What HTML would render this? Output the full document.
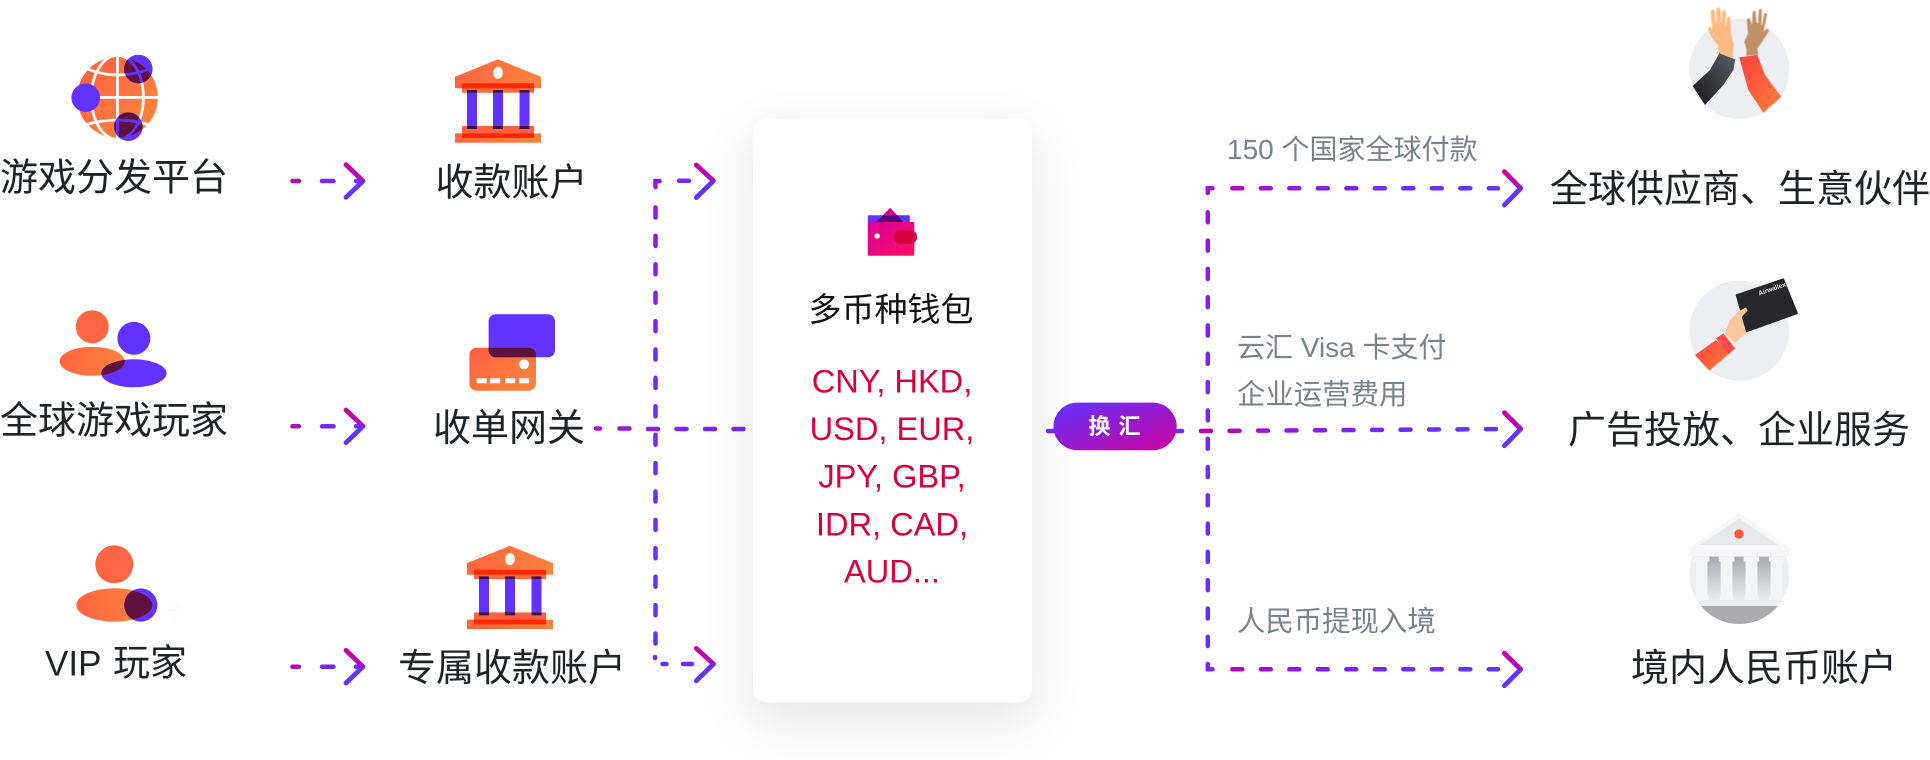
<!DOCTYPE html>
<html>
<head>
<meta charset="utf-8">
<style>
html,body{margin:0;padding:0;background:#fff;width:1930px;height:760px;overflow:hidden}
svg{display:block;position:absolute;left:0;top:0}
.t{font-family:"Liberation Sans","Noto Sans CJK SC",sans-serif;font-size:38px;fill:#1f2328}
.g{font-family:"Liberation Sans","Noto Sans CJK SC",sans-serif;font-size:28.4px;fill:#7a8290}
.c{font-family:"Liberation Sans",sans-serif;font-size:32.6px;fill:#d9003c;text-anchor:middle}
.d{fill:none;stroke-width:4.5;stroke-linecap:round;stroke-dasharray:10 18.5}
.s{fill:none;stroke-width:4.5;stroke-linecap:round}
.ch{fill:none;stroke:url(#chev);stroke-width:4.8;stroke-linecap:round;stroke-linejoin:round}
</style>
</head>
<body>
<svg width="1930" height="760" viewBox="0 0 1930 760" xmlns="http://www.w3.org/2000/svg">
<defs>
<linearGradient id="o" x1="0" y1="0" x2="1" y2="1"><stop offset="0" stop-color="#ff5c42"/><stop offset="1" stop-color="#ff8a3c"/></linearGradient>
<linearGradient id="o2" x1="0" y1="0" x2="1" y2="0"><stop offset="0" stop-color="#ff6440"/><stop offset="1" stop-color="#ff843c"/></linearGradient>
<linearGradient id="chev" x1="0" y1="0" x2="0" y2="1"><stop offset="0" stop-color="#cc00a0"/><stop offset=".42" stop-color="#b008c0"/><stop offset=".55" stop-color="#6232ff"/><stop offset="1" stop-color="#6232ff"/></linearGradient>
<linearGradient id="hl" gradientUnits="userSpaceOnUse" x1="1205" y1="0" x2="1510" y2="0"><stop offset="0" stop-color="#c400a8"/><stop offset=".3" stop-color="#8c1ce6"/><stop offset=".65" stop-color="#6e2cfa"/><stop offset="1" stop-color="#6232ff"/></linearGradient>
<linearGradient id="hs" gradientUnits="userSpaceOnUse" x1="285" y1="0" x2="360" y2="0"><stop offset="0" stop-color="#c400a8"/><stop offset=".55" stop-color="#7a28f0"/><stop offset="1" stop-color="#6232ff"/></linearGradient>
<linearGradient id="hm" gradientUnits="userSpaceOnUse" x1="590" y1="0" x2="750" y2="0"><stop offset="0" stop-color="#b010c8"/><stop offset=".5" stop-color="#7a26f2"/><stop offset="1" stop-color="#6a2cff"/></linearGradient>
<linearGradient id="vl" gradientUnits="userSpaceOnUse" x1="0" y1="180" x2="0" y2="665"><stop offset="0" stop-color="#9a14dc"/><stop offset=".45" stop-color="#7628f6"/><stop offset="1" stop-color="#6232ff"/></linearGradient>
<linearGradient id="pill" x1="0" y1="0" x2="1" y2="1"><stop offset="0" stop-color="#5f34ff"/><stop offset="1" stop-color="#cc009c"/></linearGradient>
<linearGradient id="wal" x1="0" y1="0" x2="1" y2="1"><stop offset="0" stop-color="#d4009c"/><stop offset="1" stop-color="#ff1060"/></linearGradient>
<linearGradient id="slv" x1="1" y1="0" x2="0" y2="1"><stop offset="0" stop-color="#5c5d66"/><stop offset="1" stop-color="#16161a"/></linearGradient>
<linearGradient id="red" x1="0" y1="0" x2="1" y2="1"><stop offset="0" stop-color="#ff3e40"/><stop offset="1" stop-color="#ff8038"/></linearGradient>
<linearGradient id="col" x1="0" y1="0" x2="0" y2="1"><stop offset="0" stop-color="#a9aaaf"/><stop offset="1" stop-color="#ebecef"/></linearGradient>
<filter id="sh" x="-30%" y="-20%" width="160%" height="140%"><feDropShadow dx="0" dy="18" stdDeviation="24" flood-color="#000" flood-opacity=".10"/></filter>
<filter id="bl" x="-5%" y="-5%" width="110%" height="110%"><feGaussianBlur stdDeviation="1.2"/></filter>
<mask id="gm" maskUnits="userSpaceOnUse" x="60" y="40" width="120" height="120">
  <circle cx="117.5" cy="97.4" r="40.5" fill="#fff"/>
  <g fill="none" stroke="#000" stroke-width="2.8">
    <line x1="117.4" y1="50" x2="117.4" y2="145"/>
    <line x1="70" y1="97.4" x2="165" y2="97.4"/>
    <ellipse cx="117.4" cy="97.4" rx="26" ry="42"/>
    <path d="M85 68 Q117 82 152 68"/>
    <path d="M85 125 Q117 115 150 125"/>
  </g>
</mask>
<clipPath id="gc"><circle cx="138.3" cy="69" r="14.3"/><circle cx="128.3" cy="126.7" r="14.3"/></clipPath>
<clipPath id="p1"><ellipse cx="92.2" cy="361.3" rx="32.6" ry="14.5"/></clipPath>
<clipPath id="v1"><ellipse cx="114.3" cy="605" rx="38" ry="16.7"/></clipPath>
<clipPath id="c1"><rect x="469.4" y="347.7" width="66.6" height="43" rx="7"/></clipPath>
<clipPath id="bk"><circle cx="178" cy="192" r="150"/></clipPath>
<g id="bank">
  <polygon points="498,59.3 541,76.7 541,88.3 455,88.3 455,76.7" fill="url(#o2)"/>
  <ellipse cx="498" cy="72.7" rx="4.8" ry="6" fill="#fff"/>
  <rect x="462" y="83.3" width="72" height="9.4" fill="#ff6a42"/>
  <rect x="462" y="83.3" width="72" height="5" fill="#ff2800"/>
  <rect x="467" y="90" width="10" height="39" fill="#6232ff"/>
  <rect x="493" y="90" width="10" height="39" fill="#6232ff"/>
  <rect x="519.5" y="90" width="10" height="39" fill="#6232ff"/>
  <rect x="462" y="126" width="72" height="12" fill="#ff6042"/>
  <rect x="467" y="90" width="10" height="2.7" fill="#3a1540"/><rect x="493" y="90" width="10" height="2.7" fill="#3a1540"/><rect x="519.5" y="90" width="10" height="2.7" fill="#3a1540"/>
  <rect x="467" y="126" width="10" height="3" fill="#3a1540"/><rect x="493" y="126" width="10" height="3" fill="#3a1540"/><rect x="519.5" y="126" width="10" height="3" fill="#3a1540"/>
  <rect x="455" y="133.3" width="86" height="9.4" fill="url(#o2)"/>
  <rect x="462" y="133.3" width="72" height="4.7" fill="#ff2800"/>
</g>
</defs>

<!-- globe -->
<circle cx="117.5" cy="97.4" r="40.5" fill="url(#o)" mask="url(#gm)"/>
<circle cx="138.3" cy="69" r="14.3" fill="#6232ff"/>
<circle cx="85.7" cy="97.7" r="14.3" fill="#6232ff"/>
<circle cx="128.3" cy="126.7" r="14.3" fill="#6232ff"/>
<g clip-path="url(#gc)"><circle cx="117.5" cy="97.4" r="40.5" fill="#5f1240" mask="url(#gm)"/></g>

<!-- bank 1 -->
<use href="#bank"/>

<!-- people -->
<circle cx="92.2" cy="326.7" r="16.5" fill="#ff6644"/>
<ellipse cx="92.2" cy="361.3" rx="32.6" ry="14.5" fill="url(#o2)"/>
<circle cx="133.9" cy="338.3" r="16.5" fill="#6232ff"/>
<ellipse cx="133.9" cy="373.3" rx="32.7" ry="14" fill="#6232ff"/>
<g clip-path="url(#p1)"><ellipse cx="133.9" cy="373.3" rx="32.7" ry="14" fill="#5f1240"/></g>

<!-- card icon -->
<rect x="469.4" y="347.7" width="66.6" height="43" rx="7" fill="url(#o)"/>
<rect x="488.6" y="314.3" width="66.4" height="43" rx="7" fill="#6232ff"/>
<g clip-path="url(#c1)"><rect x="488.6" y="314.3" width="66.4" height="43" rx="7" fill="#5f1240"/></g>
<circle cx="524" cy="364.3" r="5" fill="#fff"/>
<g fill="#fff"><rect x="476.7" y="378.3" width="10" height="5"/><rect x="490" y="378.3" width="10" height="5"/><rect x="505" y="378.3" width="10" height="5"/><rect x="519" y="378.3" width="10" height="5"/></g>

<!-- VIP -->
<circle cx="114.3" cy="564.3" r="19" fill="#ff6644"/>
<ellipse cx="114.3" cy="605" rx="38" ry="16.7" fill="url(#o2)"/>
<circle cx="140.8" cy="605" r="16.6" fill="#6232ff"/>
<g clip-path="url(#v1)"><circle cx="140.8" cy="605" r="16.6" fill="#5f1240"/></g>
<path d="M163 610H183M174 601L183 610L174 619" fill="none" stroke="#fcfcfc" stroke-width="2"/>

<!-- bank 2 -->
<use href="#bank" transform="translate(12,486.4)"/>

<!-- left labels -->
<text class="t" x="0" y="190.5">游戏分发平台</text>
<text class="t" x="0" y="433.5">全球游戏玩家</text>
<text class="t" x="45" y="675.5"><tspan font-size="35">VIP</tspan><tspan x="113" font-size="37">玩家</tspan></text>
<text class="t" x="435.5" y="195.5">收款账户</text>
<text class="t" x="433" y="441">收单网关</text>
<text class="t" x="398" y="681">专属收款账户</text>

<!-- short arrows -->
<g id="sa">
<path class="s" stroke="url(#hs)" d="M292.5 181H299M322 181H333.5M356 181H362"/>
<polyline class="ch" points="346,164.7 363,181 346,197.3"/>
</g>
<use href="#sa" transform="translate(0,245.3)"/>
<use href="#sa" transform="translate(0,485.7)"/>

<!-- left connector network -->
<path class="s" stroke="url(#hm)" d="M596 428.5H600M619.5 428.5H629.5"/>
<path class="d" stroke="url(#hm)" d="M648 429H745"/>
<path class="d" stroke="url(#vl)" style="stroke-dasharray:10 18.4" d="M655.5 207.5V644"/>
<path class="s" stroke="#9a14dc" d="M655.5 187V181H659.5"/>
<path class="s" stroke="#7a28f4" d="M679 180.8H689"/>
<polyline class="ch" points="696.3,165 713.5,180.8 696.3,197.6"/>
<path class="s" stroke="#6a2cff" d="M655 657V658M662.5 664H666.5M683 664H692"/>
<polyline class="ch" points="696.3,648.4 713.5,664 696.3,680.8"/>

<!-- card -->
<rect x="753" y="118.5" width="279" height="584" rx="14" fill="#fff" filter="url(#sh)"/>
<!-- wallet -->
<rect x="867.8" y="215.3" width="42" height="8" rx="1" fill="#6232ff"/>
<polygon points="890.2,207.7 903.3,222 876.7,222" fill="#cc0094"/>
<polygon points="883.3,215.3 897.1,215.3 903.3,222 876.7,222" fill="#52007a"/>
<rect x="867.8" y="222" width="46.5" height="33.7" rx="1.5" fill="url(#wal)"/>
<rect x="894.3" y="230.5" width="22.7" height="13" rx="6" fill="#d4003e"/>
<circle cx="877.1" cy="236" r="2.7" fill="#fff"/>
<text x="891" y="321" text-anchor="middle" style="font-family:'Liberation Sans','Noto Sans CJK SC',sans-serif;font-size:33px;fill:#111">多币种钱包</text>
<text class="c" x="892" y="392.5">CNY, HKD,</text>
<text class="c" x="892" y="440">USD, EUR,</text>
<text class="c" x="892" y="487.5">JPY, GBP,</text>
<text class="c" x="892" y="535.3">IDR, CAD,</text>
<text class="c" x="892" y="582.7">AUD...</text>

<!-- pill -->
<path class="s" stroke="#7a28f4" d="M1048 431H1054"/>
<path class="s" stroke="#6a2cff" d="M1177 431H1182"/>
<rect x="1053.5" y="402.6" width="123.2" height="47.6" rx="23.8" fill="url(#pill)"/>
<text x="1115" y="434" text-anchor="middle" style="font-family:'Liberation Sans','Noto Sans CJK SC',sans-serif;font-size:22px;font-weight:700;fill:#fff;letter-spacing:1px">换 汇</text>

<!-- right connectors -->
<path class="d" stroke="url(#vl)" style="stroke-dasharray:10 18.3" d="M1207.8 212.3V646"/>
<path class="s" stroke="#a414d4" d="M1207.8 193V188.3H1212.5"/>
<path class="s" stroke="#7a28f4" d="M1207.8 664V669.3H1212.5"/>
<path class="d" stroke="url(#hl)" d="M1232.3 188.3H1498"/>
<path class="d" stroke="url(#hl)" d="M1201 431L1498 429.1"/>
<path class="d" stroke="url(#hl)" d="M1232.3 669.3H1498"/>
<polyline class="ch" points="1504.4,171.7 1520.7,188.3 1504.4,205"/>
<polyline class="ch" points="1504.4,412.7 1520.7,429 1504.4,445.7"/>
<polyline class="ch" points="1504.4,653.3 1520.7,669.3 1504.4,685.7"/>

<!-- gray labels -->
<text class="g" x="1227" y="159" style="font-size:28px">150 个国家全球付款</text>
<text class="g" x="1237" y="357" style="font-size:28px">云汇 Visa 卡支付</text>
<text class="g" x="1237" y="404">企业运营费用</text>
<text class="g" x="1237" y="631">人民币提现入境</text>

<!-- right labels -->
<text class="t" x="1550" y="202">全球供应商、生意伙伴</text>
<text class="t" x="1568" y="443">广告投放、企业服务</text>
<text class="t" x="1631" y="681">境内人民币账户</text>

<!-- hands -->
<g transform="translate(1670,0) scale(.33333)">
  <circle cx="208" cy="207" r="150" fill="#eceef2"/>
  <g filter="url(#bl)">
  <path d="M148 162L143 135L125 112L114 86L120 78L127 90L122 35L128 27L134 32L137 68L139 68L140 24L148 22L152 30L153 68L155 68L157 32L164 30L168 40L166 75L169 75L172 50L181 52L183 100L191 135L187 174Z" fill="#fdba82"/>
  <path d="M229 168L230 150L223 125L234 100L230 58L238 53L246 76L248 35L256 32L260 70L264 70L267 28L276 28L274 76L276 76L283 38L292 42L280 96L290 86L298 92L276 126L262 145L265 165Z" fill="#c09066"/>
  </g>
  <path d="M148 160L196 178L190 210L160 255L105 315L68 258L120 210Z" fill="url(#slv)"/>
  <path d="M208 172L262 165L285 225L334 290L280 338L235 270Z" fill="url(#red)"/>
</g>

<!-- card hand -->
<g transform="translate(1680,270) scale(.33333)">
  <circle cx="178" cy="182" r="150" fill="#eceef2"/>
  <path d="M135 190L150 150L175 125L195 118L198 190L165 218Z" fill="#fcc89b"/>
  <path d="M169 75L310 27L352 130L200 185Z" fill="#26262b" stroke="#26262b" stroke-width="4" stroke-linejoin="round"/>
  <path d="M170 128L198 112L203 122L186 140L176 142Z" fill="#fcc89b"/>
  <path d="M45 255L108 210L148 250L88 302Z" fill="url(#red)"/>
  <path d="M108 205L130 190L165 235L145 253Z" fill="#ff4a4a"/>
</g>
<text transform="translate(1759.3,295.5) rotate(-19)" style="font-family:'Liberation Sans',sans-serif;font-size:6.5px;font-weight:700;fill:#e8e8ea">Airwallex</text>

<!-- gray bank -->
<g transform="translate(1680,510) scale(.33333)">
  <circle cx="178" cy="192" r="150" fill="#eceef2"/>
  <g clip-path="url(#bk)">
    <rect x="82" y="140" width="40" height="130" fill="url(#col)"/>
    <rect x="157" y="140" width="40" height="130" fill="url(#col)"/>
    <rect x="232" y="140" width="40" height="130" fill="url(#col)"/>
    <g fill="#f4f5f7">
      <rect x="48" y="140" width="34" height="130"/><rect x="122" y="140" width="35" height="130"/><rect x="197" y="140" width="35" height="130"/><rect x="272" y="140" width="35" height="130"/>
      <rect x="40" y="140" width="48" height="15"/><rect x="116" y="140" width="47" height="15"/><rect x="191" y="140" width="47" height="15"/><rect x="266" y="140" width="47" height="15"/>
      <rect x="44" y="256" width="42" height="14"/><rect x="119" y="256" width="41" height="14"/><rect x="194" y="256" width="41" height="14"/><rect x="269" y="256" width="41" height="14"/>
    </g>
    <rect x="20" y="270" width="320" height="18" fill="#ebecef"/>
    <rect x="20" y="288" width="320" height="60" fill="#a9a9ae"/>
  </g>
  <polygon points="178,8 340,120 18,120" fill="#f8f8fa"/>
  <rect x="30" y="120" width="298" height="18" fill="#f6f6f8"/>
  <polygon points="178,25 295,105 60,105" fill="#e8e9ec"/>
  <circle cx="177" cy="72" r="14" fill="#ff5c30"/>
</g>
</svg>
</body>
</html>
